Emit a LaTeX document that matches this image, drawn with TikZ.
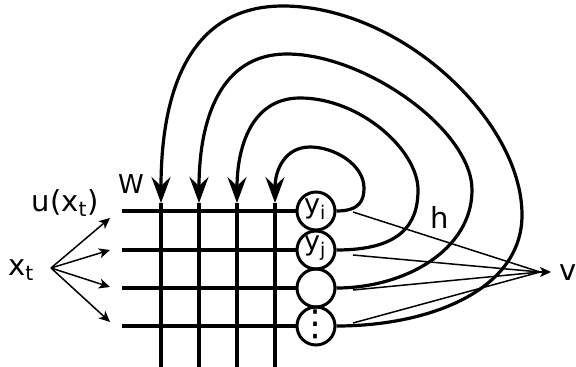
\documentclass[tikz,border=0pt]{standalone}
\usepackage{fontspec}
\setmainfont{DejaVu Sans}
\usetikzlibrary{arrows.meta}
\tikzset{
  lab/.style={font=\fontsize{29}{32}\selectfont, inner sep=0pt},
  neuron/.style={circle, draw, line width=3pt, minimum size=38pt, inner sep=0pt, font=\fontsize{27}{30}\selectfont},
  gridline/.style={line width=3.4pt},
  loop/.style={line width=3.2pt, -{Stealth[length=26pt,width=19pt,inset=9pt]}},
  thin/.style={line width=1.5pt},
  thinarrow/.style={line width=1.5pt, -{Stealth[length=11pt,width=10pt,inset=3pt]}},
}
\begin{document}
\begin{tikzpicture}[x=1pt,y=-1pt]
\useasboundingbox (0,0) rectangle (576,367);
% neurons
\node[neuron] (c1) at (316,211) {};
\node[neuron] (c2) at (316,250) {};
\node[neuron] (c3) at (316,288) {};
\node[neuron] (c4) at (316,326) {};
\node[lab, font=\fontsize{27}{30}\selectfont] (yi) at (315,209) {y\textsubscript{i}};
\node[lab, font=\fontsize{27}{30}\selectfont] (yj) at (315,248) {y\textsubscript{j}};
\node[lab, font=\fontsize{36}{40}\selectfont] (dots) at (315,324) {⋮};
% grid coordinates
\coordinate (t1) at (161,203); \coordinate (b1) at (161,367);
\coordinate (t2) at (199,203); \coordinate (b2) at (199,367);
\coordinate (t3) at (237,203); \coordinate (b3) at (237,367);
\coordinate (t4) at (275,203); \coordinate (b4) at (275,367);
\coordinate (l1) at (122,211);
\coordinate (l2) at (122,250);
\coordinate (l3) at (122,288);
\coordinate (l4) at (122,326);
% grid
\draw[gridline] (l1) -- (c1.west);
\draw[gridline] (l2) -- (c2.west);
\draw[gridline] (l3) -- (c3.west);
\draw[gridline] (l4) -- (c4.west);
\draw[gridline] (t1) -- (b1);
\draw[gridline] (t2) -- (b2);
\draw[gridline] (t3) -- (b3);
\draw[gridline] (t4) -- (b4);
% recurrent loops
\draw[loop] (c1.east) .. controls (360,211) and (364,200) .. (364,188)
  .. controls (364,165) and (335,147) .. (310,147)
  .. controls (285,147) and (275,170) .. (t4);
\draw[loop] (c2.east) .. controls (400,250) and (418,225) .. (418,190)
  .. controls (418,150) and (360,98) .. (300,98)
  .. controls (250,98) and (237,150) .. (t3);
\draw[loop] (c3.east) .. controls (405,288) and (472,250) .. (472,190)
  .. controls (472,130) and (365,54) .. (287,54)
  .. controls (220,54) and (199,120) .. (t2);
\draw[loop] (c4.east) .. controls (430,326) and (522,290) .. (522,215)
  .. controls (522,120) and (400,6) .. (283,6)
  .. controls (190,6) and (161,90) .. (t1);
% readout
\node[lab] (v) at (568,273) {v};
\coordinate (vin) at (540,272);
\coordinate (o1) at (353,212);
\coordinate (o2) at (353,255);
\coordinate (o3) at (353,290);
\coordinate (o4) at (353,323);
\draw[thin] (o1) -- (vin);
\draw[thin] (o2) -- (vin);
\draw[thin] (o3) -- (vin);
\draw[thin] (o4) -- (vin);
\draw[thinarrow] (vin) -- (551,272);
% input
\node[lab] (x) at (21,270) {x\textsubscript{t}};
\coordinate (xo) at (51,268);
\coordinate (i1) at (110,218);
\coordinate (i2) at (110,250);
\coordinate (i3) at (110,287);
\coordinate (i4) at (110,322);
\draw[thinarrow] (xo) -- (i1);
\draw[thinarrow] (xo) -- (i2);
\draw[thinarrow] (xo) -- (i3);
\draw[thinarrow] (xo) -- (i4);
% labels
\node[lab] (u) at (65,203) {u(x\textsubscript{t})};
\node[lab, font=\fontsize{26}{28}\selectfont] (W) at (131,184) {W};
\node[lab] (h) at (440,217) {h};
\end{tikzpicture}
\end{document}
